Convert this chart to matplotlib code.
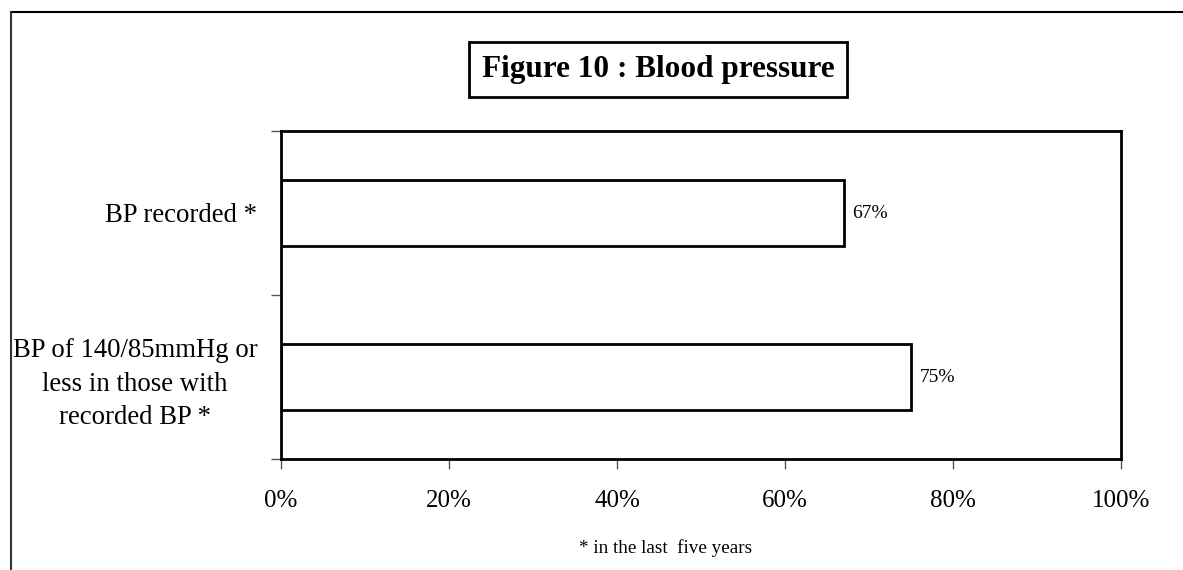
import matplotlib.pyplot as plt
from matplotlib.lines import Line2D
from matplotlib.patches import Rectangle

plt.rcParams['font.family'] = ['Liberation Serif', 'DejaVu Serif']

categories = ['BP recorded *', 'BP of 140/85mmHg or\nless in those with\nrecorded BP *']
values = [67, 75]
xticks = [0, 20, 40, 60, 80, 100]

W, H = 1183, 570
fig = plt.figure(figsize=(W / 100, H / 100), dpi=100)

# axes box in pixel coords: x 281..1121, y 131..459
ax = fig.add_axes([281 / W, 1 - 459 / H, 840 / W, 328 / H])

pos = [1, 0]
ax.barh(pos, values, height=0.4, color='white', edgecolor='black', linewidth=2)
for p, v in zip(pos, values):
    ax.text(v + 1, p, f'{v}%', va='center', ha='left', fontsize=14)

ax.set_xlim(0, 100)
ax.set_ylim(-0.5, 1.5)
ax.set_xticks(xticks)
ax.set_xticklabels([f'{t}%' for t in xticks], fontsize=18)
ax.set_yticks([-0.5, 0.5, 1.5], minor=False)
ax.set_yticklabels([])
ax.set_yticks(pos, minor=True)
ax.set_yticklabels(categories, minor=True, fontsize=19.3)
for lbl in ax.get_yticklabels(minor=True):
    lbl.set_horizontalalignment('right')
    lbl.set_multialignment('center')
    lbl.set_linespacing(1.45)
ax.tick_params(axis='y', which='minor', length=0, pad=17)
ax.tick_params(axis='both', which='major', length=7, width=1, color='#555555', direction='out')
ax.tick_params(axis='x', pad=15)
for s in ax.spines.values():
    s.set_linewidth(2)

# title in a framed box
fig.add_artist(Rectangle((469 / W, 1 - 97 / H), 378 / W, 55 / H, transform=fig.transFigure,
                         facecolor='white', edgecolor='black', linewidth=2))
fig.text(658 / W, 1 - 69 / H, 'Figure 10 : Blood pressure', ha='center', va='center',
         fontsize=22.5, fontweight='bold')

fig.text(666 / W, 1 - 548 / H, '* in the last  five years', ha='center', va='center', fontsize=13.8)

# outer frame (top and left edge only)
fig.add_artist(Line2D([11 / W, 1], [1 - 12 / H, 1 - 12 / H], color='black', linewidth=1.5))
fig.add_artist(Line2D([11 / W, 11 / W], [0, 1 - 12 / H], color='#333333', linewidth=1.5))

fig.savefig('out.png', dpi=100)
